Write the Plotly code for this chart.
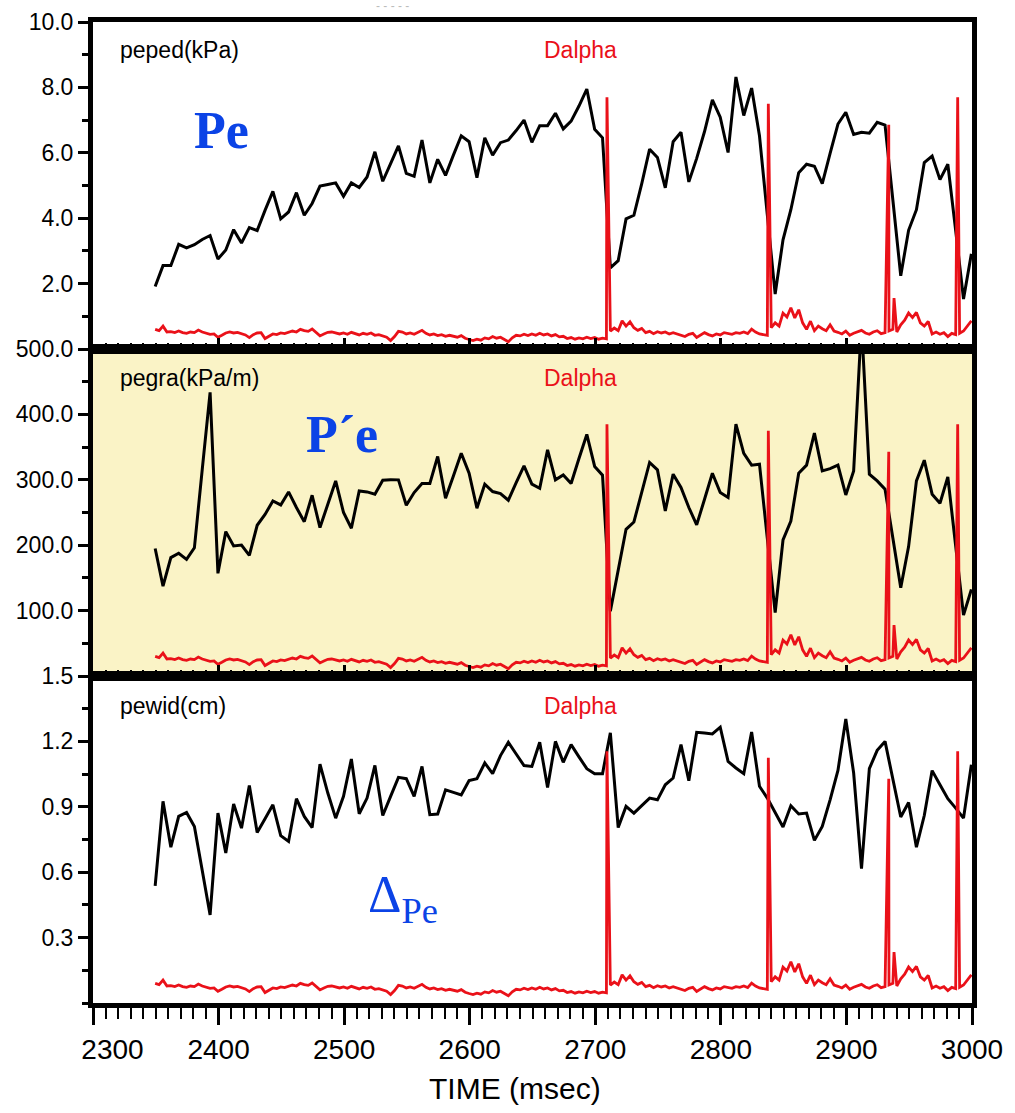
import numpy as np
import plotly.graph_objects as go

# ---------------- data ----------------
T_START = 2349.5          # ms, first sample of the pedestal profiles
DT_PED = 6.25             # ms, sampling of the pedestal fits
DT_DA = 3.125             # ms, sampling of the Dalpha trace

peped_kpa = [1.91, 2.55, 2.55, 3.20, 3.09, 3.19, 3.35, 3.47, 2.75, 3.03,
             3.65, 3.24, 3.71, 3.62, 4.24, 4.82, 3.98, 4.19, 4.78, 4.09,
             4.45, 4.98, 5.03, 5.08, 4.67, 5.08, 4.94, 5.26, 6.03, 5.13,
             5.67, 6.21, 5.37, 5.28, 6.39, 5.08, 5.80, 5.31, 5.93, 6.52,
             6.34, 5.24, 6.46, 5.93, 6.31, 6.39, 6.68, 7.00, 6.32, 6.83,
             6.83, 7.21, 6.73, 6.97, 7.43, 7.95, 6.72, 6.46, 2.48, 2.70,
             3.98, 4.09, 5.06, 6.11, 5.86, 4.93, 6.34, 6.63, 5.11, 5.83,
             6.65, 7.62, 7.09, 6.01, 8.32, 7.14, 7.98, 6.52, 4.10, 1.68,
             3.34, 4.26, 5.39, 5.65, 5.59, 5.06, 5.98, 6.88, 7.24, 6.56,
             6.63, 6.60, 6.93, 6.85, 4.55, 2.24, 3.63, 4.26, 5.70, 5.90,
             5.18, 5.65, 3.62, 1.53, 2.91]

pegra_kpa_m = [195, 137.5, 181, 187.6, 178.4, 196, 316, 433.7, 157, 220.8,
               198.8, 200.3, 184.5, 230.5, 247, 267.7, 261.6, 281.5, 257.6, 236,
               276.4, 227, 262.6, 298.3, 250, 225.9, 283, 281.5, 278, 299.4,
               300, 299.9, 261, 280.5, 294.3, 294.3, 335.7, 271.8, 306, 340.7,
               310, 256.5, 293.3, 282, 279, 268.8, 295.8, 321.3, 293.3, 287,
               345.8, 299.9, 307.5, 294.3, 332.6, 369.4, 320.4, 307, 99.2, 163,
               224.3, 235.5, 280.5, 326.5, 315.2, 252.4, 308.6, 288.2, 257.6, 231,
               270.3, 310, 280.5, 272.9, 385.1, 340.3, 322.4, 323.9, 210.6, 96.8,
               208, 237, 310, 322.4, 371.4, 313.6, 317, 322.4, 276.9, 313.6,
               540, 308.6, 298.3, 285.6, 210.6, 135, 197.8, 298.3, 330, 278,
               264.2, 304.4, 198.8, 93.1, 132.5]

pewid_cm = [0.537, 0.925, 0.715, 0.856, 0.874, 0.810, 0.608, 0.404, 0.871, 0.688,
            0.913, 0.802, 0.998, 0.782, 0.845, 0.909, 0.768, 0.741, 0.937, 0.856,
            0.805, 1.096, 0.963, 0.848, 0.948, 1.119, 0.868, 0.940, 1.090, 0.860,
            0.948, 1.035, 1.029, 0.948, 1.085, 0.864, 0.867, 0.978, 0.966, 0.954,
            1.020, 1.029, 1.101, 1.052, 1.135, 1.196, 1.142, 1.089, 1.085, 1.196,
            0.989, 1.200, 1.104, 1.185, 1.129, 1.075, 1.052, 1.052, 1.239, 0.805,
            0.902, 0.871, 0.905, 0.940, 0.932, 1.001, 1.032, 1.185, 1.020, 1.242,
            1.239, 1.234, 1.265, 1.108, 1.078, 1.052, 1.243, 0.994, 0.940, 0.876,
            0.807, 0.905, 0.867, 0.871, 0.746, 0.810, 0.932, 1.067, 1.303, 1.055,
            0.616, 1.075, 1.159, 1.200, 1.024, 0.853, 0.920, 0.715, 0.860, 1.066,
            1.001, 0.937, 0.894, 0.848, 1.093]

# Dalpha (arbitrary units), uniform 3.125 ms samples
dalpha_au = [6.0, 5.6, 7.0, 5.2, 5.3, 5.0, 5.5, 5.0, 4.8, 5.2,
             5.0, 5.8, 5.2, 4.8, 4.5, 4.6, 3.6, 4.2, 4.9, 5.2,
             4.9, 5.1, 4.6, 4.3, 3.5, 4.4, 4.9, 5.0, 3.2, 4.0,
             4.6, 4.4, 4.9, 4.7, 5.1, 5.5, 5.2, 6.0, 5.6, 5.4,
             6.1, 5.0, 4.0, 4.6, 5.1, 5.2, 5.0, 4.6, 4.9, 4.5,
             5.1, 4.6, 4.3, 4.8, 4.5, 4.9, 4.2, 4.4, 4.0, 3.6,
             2.6, 3.8, 5.4, 5.2, 4.6, 4.9, 4.5, 5.0, 5.7, 4.8,
             4.3, 4.6, 4.1, 4.4, 3.9, 4.2, 4.0, 3.6, 4.1, 3.3,
             2.9, 2.6, 3.0, 2.7, 3.4, 3.1, 3.8, 3.3, 3.6, 2.9,
             2.2, 3.4, 4.2, 4.0, 4.5, 4.1, 4.6, 4.2, 4.8, 4.3,
             4.6, 4.0, 4.4, 3.7, 3.9, 3.2, 3.5, 3.0, 3.4, 3.1,
             3.6, 3.2, 3.5, 3.0, 3.3, 3.1, 5.5, 6.4, 5.6, 8.6,
             7.0, 8.3, 6.5, 5.7, 6.3, 5.0, 5.4, 4.7, 5.3, 4.9,
             5.2, 4.6, 5.0, 4.6, 4.2, 3.8, 4.5, 4.8, 3.5, 4.2,
             5.0, 4.4, 4.0, 4.6, 4.3, 5.0, 4.7, 4.5, 5.0, 4.8,
             5.2, 4.7, 6.1, 5.2, 4.6, 4.4, 4.2, 6.5, 8.0, 7.0,
             11.0, 9.8, 12.6, 9.5, 12.0, 8.0, 6.0, 8.5, 5.6, 7.0,
             6.2, 5.6, 7.4, 5.5, 5.1, 4.6, 5.5, 4.2, 4.8, 5.3,
             5.7, 4.9, 4.5, 5.2, 5.6, 4.7, 5.0, 5.5, 6.0, 5.2,
             7.4, 8.8, 11.0, 9.6, 11.2, 8.0, 7.0, 8.4, 4.6, 5.2,
             4.5, 5.0, 3.8, 4.8, 4.4, 4.8, 5.5, 7.0, 8.6]

# ELM spikes in Dalpha (time ms, a.u.)
spike_t = [2709.3, 2837.8, 2933.7, 2937.9, 2988.6]
spike_v = [77.0, 75.0, 68.6, 15.6, 77.0]

x_ticks = [2300, 2400, 2500, 2600, 2700, 2800, 2900, 3000]
x_labels = ["\u00a0\u00a0\u00a0\u00a0\u00a02300", "2400", "2500", "2600", "2700", "2800", "2900", "3000"]

# ---------------- build traces ----------------
t_ped = T_START + DT_PED * np.arange(len(peped_kpa))
t_da = T_START + DT_DA * np.arange(len(dalpha_au))
t_all = np.concatenate([t_da, spike_t])
v_all = np.concatenate([dalpha_au, spike_v])
order = np.argsort(t_all)
t_all, v_all = t_all[order], v_all[order]

SANS = "Liberation Sans, Arial, sans-serif"
SERIF = "Liberation Serif, Times New Roman, DejaVu Serif, serif"
RED = "#ea1119"
BLUE = "#0b43e6"
BLACK = "black"

fig = go.Figure()

panels = [  # (xaxis, yaxis, overlay yaxis, data)
    ("x3", "y3", "y6", peped_kpa),
    ("x2", "y2", "y5", pegra_kpa_m),
    ("x", "y", "y4", pewid_cm),
]
for xa, ya, yo, vals in panels:
    fig.add_trace(go.Scatter(x=t_ped, y=vals, mode="lines", xaxis=xa, yaxis=ya,
                             line=dict(color=BLACK, width=3), showlegend=False,
                             hoverinfo="skip"))
    fig.add_trace(go.Scatter(x=t_all, y=v_all, mode="lines", xaxis=xa, yaxis=yo,
                             line=dict(color=RED, width=2.8), showlegend=False,
                             hoverinfo="skip"))

H = 1 / 3
doms = {"y": [0, H], "y2": [H, 2 * H], "y3": [2 * H, 1]}

def xaxis(anchor, bottom):
    d = dict(anchor=anchor, domain=[0, 1], range=[2300, 3000], showline=True,
             linewidth=5, linecolor=BLACK, mirror=True, showgrid=False, zeroline=False,
             automargin=False,
             tickmode="array", tickvals=x_ticks, ticktext=x_labels, tickwidth=2.5,
             tickcolor=BLACK,
             minor=dict(dtick=10, tick0=2300, ticklen=6 if not bottom else 11,
                        tickwidth=2, tickcolor=BLACK,
                        ticks="inside" if not bottom else "outside"))
    if bottom:
        d.update(ticks="outside", ticklen=17, showticklabels=True,
                 tickfont=dict(family=SANS, size=28, color=BLACK))
    else:
        d.update(ticks="inside", ticklen=11, showticklabels=False, matches="x")
    return d

def yaxis(anchor, dom, rng, vals, text, minor_vals):
    return dict(anchor=anchor, domain=dom, range=rng, showline=True, linewidth=5,
                linecolor=BLACK, mirror=True, showgrid=False, zeroline=False,
                automargin=False,
                tickmode="array", tickvals=vals, ticktext=text, ticks="outside",
                ticklen=10, tickwidth=3, tickcolor=BLACK,
                tickfont=dict(family=SANS, size=23, color=BLACK),
                minor=dict(tickmode="array", tickvals=minor_vals, ticks="outside",
                           ticklen=6, tickwidth=3, tickcolor=BLACK))

fig.update_layout(
    width=1015, height=1113,
    margin=dict(l=93, r=43, t=22, b=110),
    paper_bgcolor="white", plot_bgcolor="white",
    xaxis=xaxis("y", True),
    xaxis2=xaxis("y2", False),
    xaxis3=xaxis("y3", False),
    yaxis=yaxis("x", doms["y"], [0, 1.5], [0.3, 0.6, 0.9, 1.2, 1.5],
                ["0.3", "0.6", "0.9", "1.2", "1.5"], [0, 0.15, 0.45, 0.75, 1.05, 1.35]),
    yaxis2=yaxis("x2", doms["y2"], [0, 500], [100, 200, 300, 400, 500],
                 ["100.0", "200.0", "300.0", "400.0", "500.0"], [50, 150, 250, 350, 450]),
    yaxis3=yaxis("x3", doms["y3"], [0, 10], [2, 4, 6, 8, 10],
                 ["2.0", "4.0", "6.0", "8.0", "10.0"], [1, 3, 5, 7, 9]),
    yaxis4=dict(overlaying="y", anchor="x", range=[0, 100], visible=False),
    yaxis5=dict(overlaying="y2", anchor="x2", range=[0, 100], visible=False),
    yaxis6=dict(overlaying="y3", anchor="x3", range=[0, 100], visible=False),
    shapes=[dict(type="rect", xref="x2 domain", yref="y2 domain", x0=0, x1=1, y0=0, y1=1,
                 fillcolor="#faf3c6", line=dict(width=0), layer="below")],
)

def px_x(px):
    return (px - 93) / 879

def px_y(py):
    return (1003 - py) / 981

ann = []
for label, py in [("peped(kPa)", 50), ("pegra(kPa/m)", 378), ("pewid(cm)", 706)]:
    ann.append(dict(text=label, x=px_x(118), y=px_y(py), xanchor="left", yanchor="middle",
                    font=dict(family=SANS, size=23, color=BLACK)))
    ann.append(dict(text="Dalpha", x=px_x(580), y=px_y(py), xanchor="center", yanchor="middle",
                    font=dict(family=SANS, size=23, color=RED)))
ann.append(dict(text="<b>Pe</b>", x=px_x(221), y=px_y(130), xanchor="center", yanchor="middle",
                font=dict(family=SERIF, size=52, color=BLUE)))
ann.append(dict(text="<b>P\u00b4e</b>", x=px_x(342), y=px_y(434), xanchor="center", yanchor="middle",
                font=dict(family=SERIF, size=52, color=BLUE)))
ann.append(dict(text="\u0394<sub>Pe</sub>", x=px_x(366), y=px_y(898), xanchor="left", yanchor="middle",
                font=dict(family=SERIF, size=52, color=BLUE)))
ann.append(dict(text="TIME (msec)", x=px_x(515), y=px_y(1088), xanchor="center", yanchor="middle",
                font=dict(family=SANS, size=30, color=BLACK)))
ann.append(dict(text="- - - - -", x=px_x(392), y=px_y(6), xanchor="center", yanchor="middle",
                font=dict(family=SANS, size=12, color="#bbbbbb")))
for a in ann:
    a.update(xref="paper", yref="paper", showarrow=False)
fig.update_layout(annotations=ann)

fig.write_html("out.html")
